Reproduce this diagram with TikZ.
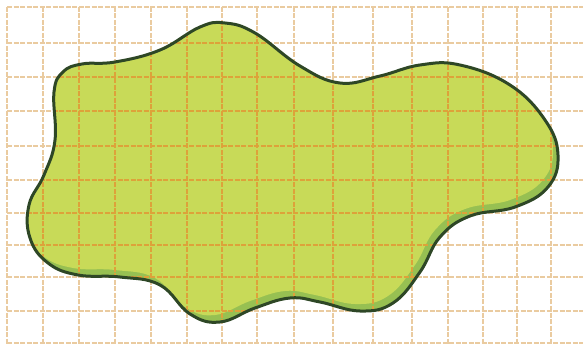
\documentclass[tikz,border=0pt]{standalone}
\usepackage{tikz}
\usepackage{xcolor}

\definecolor{blobfill}{HTML}{C8DA58}
\definecolor{blobshade}{HTML}{97C052}
\definecolor{blobline}{HTML}{2E4726}
\definecolor{gridtan}{HTML}{EACBA0}
\definecolor{gridorange}{HTML}{DDA23A}

% outline of the blob, in pixel units
\newcommand{\blobpath}{plot[smooth cycle, tension=0.7] coordinates {
    (54,92) (63,72) (82,64) (115,62) (160,50) (200,27) (225,23) (255,33)
    (300,66) (340,83) (380,76) (420,65) (460,65) (510,85) (545,120) (558,155)
    (548,187) (515,207) (470,216) (440,237) (420,272) (393,303) (360,311) (320,302)
    (290,298) (255,308) (220,322) (190,314) (160,285) (120,277) (78,275) (48,263)
    (30,238) (29,205) (44,175) (55,140)}}

\begin{document}
\begin{tikzpicture}[x=1pt, y=-1pt,
    gridline/.style = {line width=1.1pt, dash pattern=on 5pt off 1.5pt},
    outline/.style = {draw=blobline, line width=3pt, line join=round}
]
\useasboundingbox (0,0) rectangle (583,344);

% Blob with darker lower rim
\begin{scope}
  \clip \blobpath;
  \fill[blobshade] \blobpath;
  \fill[blobfill, shift={(-5,-7)}] \blobpath;
\end{scope}

% Grid
\foreach \gx in {7,43,79,115,151,187,222,257,294,333,373,412,448,483,517,551}
  \draw[gridline, gridtan] (\gx,7) -- (\gx,344);
\foreach \gy in {7,43,77,111,146,180,213,245,277,311,343}
  \draw[gridline, gridtan] (7,\gy) -- (583,\gy);

% Grid over the blob
\begin{scope}
  \clip \blobpath;
  \foreach \gx in {7,43,79,115,151,187,222,257,294,333,373,412,448,483,517,551}
    \draw[gridline, gridorange] (\gx,7) -- (\gx,344);
  \foreach \gy in {7,43,77,111,146,180,213,245,277,311,343}
    \draw[gridline, gridorange] (7,\gy) -- (583,\gy);
\end{scope}

% Outline
\draw[outline] \blobpath;

\end{tikzpicture}
\end{document}
